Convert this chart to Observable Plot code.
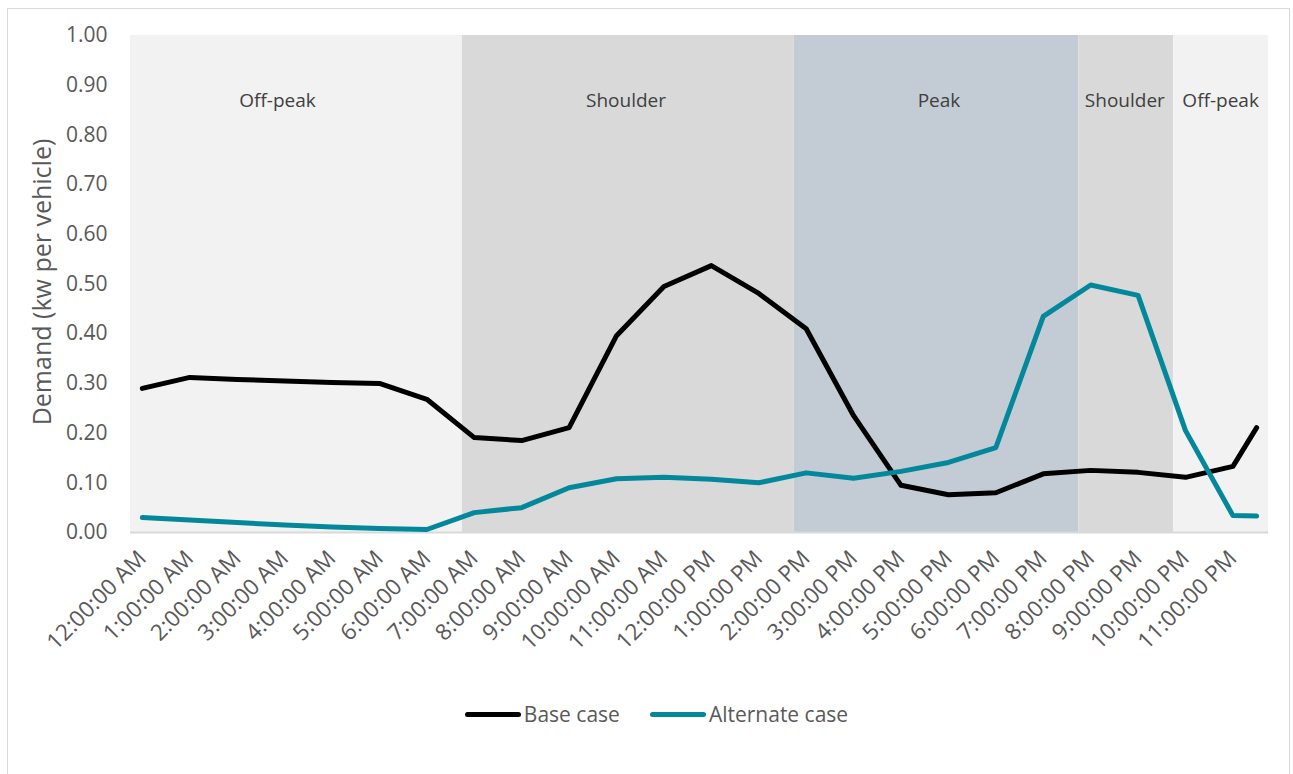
<!DOCTYPE html>
<html>
<head>
<meta charset="utf-8">
<script src="https://cdn.jsdelivr.net/npm/d3@7"></script>
<script src="https://cdn.jsdelivr.net/npm/@observablehq/plot@0.6"></script>
<style>
  html, body { margin: 0; padding: 0; background: #fff; }
  body { width: 1293px; height: 774px; position: relative; overflow: hidden; font-family: "Open Sans", sans-serif; }
  #frame { position: absolute; left: 7px; top: 8px; width: 1283px; height: 770px; border: 1.5px solid #d9d9d9; box-sizing: border-box; }
  #chart { position: absolute; left: 0; top: 0; }
  #legend { position: absolute; left: 10px; width: 1293px; top: 700px; height: 28px; display: flex; justify-content: center; align-items: center; font-size: 21px; color: #595959; }
  .item { display: flex; align-items: center; }
  .swatch { display: inline-block; width: 56px; height: 5px; border-radius: 3px; margin-right: 3px; }
</style>
</head>
<body>
<div id="frame"></div>
<div id="chart"></div>
<div id="legend"></div>
<script>
// ---- data ----
const hours = [0, 1, 2, 3, 4, 5, 6, 7, 8, 9, 10, 11, 12, 13, 14, 15, 16, 17, 18, 19, 20, 21, 22, 23, 23.5];
const baseCase = [0.290, 0.312, 0.308, 0.305, 0.302, 0.300, 0.268, 0.191, 0.185, 0.211, 0.396, 0.495, 0.537, 0.481, 0.410, 0.235, 0.095, 0.076, 0.080, 0.118, 0.125, 0.121, 0.111, 0.133, 0.211];
const alternateCase = [0.030, 0.025, 0.020, 0.015, 0.011, 0.008, 0.006, 0.040, 0.050, 0.090, 0.108, 0.111, 0.107, 0.100, 0.120, 0.109, 0.123, 0.141, 0.171, 0.435, 0.498, 0.477, 0.205, 0.034, 0.033];
const tickHours = [0, 1, 2, 3, 4, 5, 6, 7, 8, 9, 10, 11, 12, 13, 14, 15, 16, 17, 18, 19, 20, 21, 22, 23];
const tickLabels = ["12:00:00 AM", "1:00:00 AM", "2:00:00 AM", "3:00:00 AM", "4:00:00 AM", "5:00:00 AM", "6:00:00 AM", "7:00:00 AM", "8:00:00 AM", "9:00:00 AM", "10:00:00 AM", "11:00:00 AM", "12:00:00 PM", "1:00:00 PM", "2:00:00 PM", "3:00:00 PM", "4:00:00 PM", "5:00:00 PM", "6:00:00 PM", "7:00:00 PM", "8:00:00 PM", "9:00:00 PM", "10:00:00 PM", "11:00:00 PM"];
const yTicks = [0, 0.1, 0.2, 0.3, 0.4, 0.5, 0.6, 0.7, 0.8, 0.9, 1.0];
const yTitle = "Demand (kw per vehicle)";
const periodNames = ["Off-peak", "Shoulder", "Peak", "Shoulder", "Off-peak"];
const periodStart = [-0.25, 6.75, 13.75, 19.75, 21.75];
const periodEnd = [6.75, 13.75, 19.75, 21.75, 23.75];
const periodLabelHour = [2.85, 10.2, 16.8, 20.72, 22.74];
const periodLabelValue = [0.868, 0.868, 0.868, 0.868, 0.868];
const seriesNames = ["Base case", "Alternate case"];
const seriesColors = ["#000000", "#02889a"];
const periodColors = {"Off-peak": "#f2f2f2", "Shoulder": "#d9d9d9", "Peak": "#c3ccd4"};

// ---- tables ----
const periods = periodNames.map((name, i) => ({name, x1: periodStart[i], x2: periodEnd[i], lx: periodLabelHour[i], ly: periodLabelValue[i]}));
const rows = [];
hours.forEach((h, i) => rows.push({series: seriesNames[0], hour: h, value: baseCase[i]}));
hours.forEach((h, i) => rows.push({series: seriesNames[1], hour: h, value: alternateCase[i]}));
const labelOf = new Map(tickHours.map((h, i) => [h, tickLabels[i]]));

const H = 700;
const chart = Plot.plot({
  width: 1293,
  height: H,
  marginLeft: 130,
  marginRight: 25,
  marginTop: 35,
  marginBottom: H - 532,
  style: {fontFamily: "Open Sans", fontSize: "19px", color: "#595959", background: "transparent", overflow: "visible"},
  x: {domain: [-0.25, 23.75]},
  y: {domain: [0, 1]},
  color: {domain: seriesNames, range: seriesColors},
  marks: [
    Plot.rectY(periods, {x1: "x1", x2: "x2", y1: 0, y2: 1, fill: d => periodColors[d.name]}),
    Plot.ruleY([0], {stroke: "#d9d9d9", strokeWidth: 2}),
    Plot.text(periods, {x: "lx", y: "ly", text: "name", fill: "#404040", fontSize: 19}),
    Plot.line(rows, {x: "hour", y: "value", z: "series", stroke: "series", strokeWidth: 5, strokeLinejoin: "round", strokeLinecap: "round"}),
    Plot.axisY({ticks: yTicks, tickFormat: d => d.toFixed(2), tickSize: 0, tickPadding: 23, fontSize: 21, fill: "#595959", label: null}),
    Plot.text([yTitle], {frameAnchor: "left", textAnchor: "middle", dx: -88, dy: -2, rotate: -90, text: d => d, fontSize: 25, fill: "#595959"}),
    Plot.axisX({ticks: tickHours, tickFormat: d => labelOf.get(d), tickSize: 0, tickPadding: 22, tickRotate: -45, fontSize: 22.5, fill: "#595959", label: null})
  ]
});
document.getElementById("chart").appendChild(chart);

// ---- legend ----
const legend = document.getElementById("legend");
seriesNames.forEach((name, i) => {
  const item = document.createElement("span");
  item.className = "item";
  item.style.marginRight = i === 0 ? "30px" : "0";
  const sw = document.createElement("span");
  sw.className = "swatch";
  sw.style.background = seriesColors[i];
  item.appendChild(sw);
  item.appendChild(document.createTextNode(name));
  legend.appendChild(item);
});
</script>
</body>
</html>
